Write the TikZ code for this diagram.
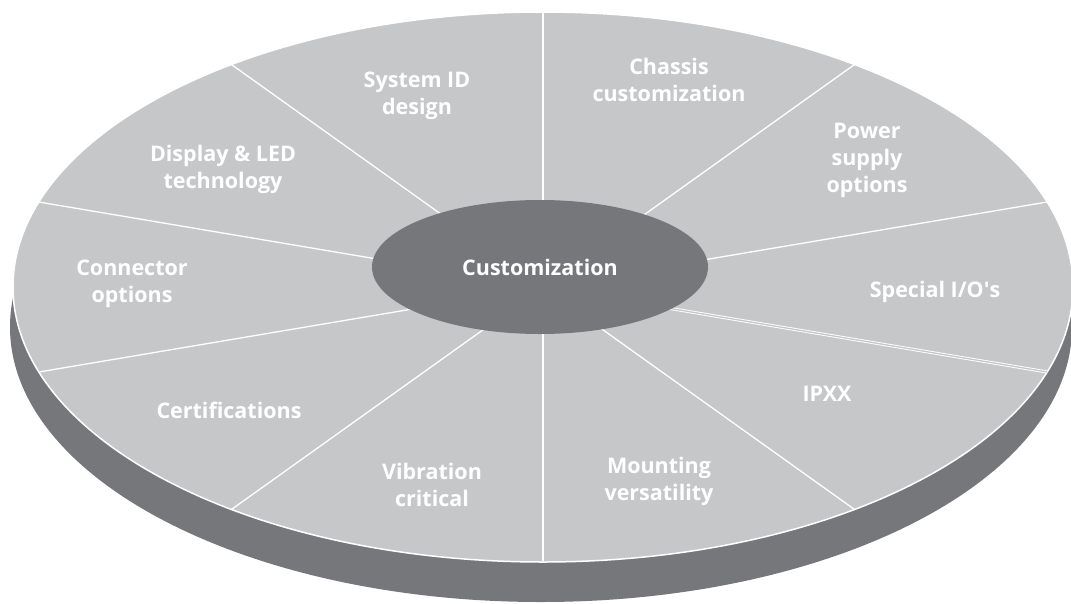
\documentclass[tikz,border=0pt]{standalone}
\usepackage{fontspec}
\setmainfont{Open Sans}
\usetikzlibrary{shapes.geometric}
\definecolor{facegray}{HTML}{C6C7C8}
\definecolor{sidegray}{HTML}{76777A}
\begin{document}
\begin{tikzpicture}[x=1pt,y=-1pt,
  lbl/.style={text=white,font=\bfseries\fontsize{21.5}{27}\selectfont,align=center,inner sep=0pt},
  spoke/.style={draw=white,line width=1.3pt},
  dspoke/.style={draw=white,line width=0.9pt,double=facegray,double distance=1.3pt},
  hub/.style={ellipse,fill=sidegray,minimum width=336,minimum height=134,inner sep=0pt,
    text=white,font=\bfseries\fontsize{21.5}{27}\selectfont}]
\useasboundingbox (0,0) rectangle (1071,603);
% side (thickness) of the disc
\fill[sidegray] (541,327) ellipse [x radius=531, y radius=275];
% top face
\draw[white,line width=1.5pt,fill=facegray] (543,287) ellipse [x radius=530, y radius=275];
\coordinate (c) at (543,287);
\foreach \i/\a in {1/-90,2/-54,3/-18,4/18,5/54,6/90,7/126,8/162,9/198,10/234}
  \path (c) ++(\a:530 and 275) coordinate (o\i);
\foreach \i in {1,2,3,5,6,7,8,9,10}
  \draw[spoke] (c) -- (o\i);
\draw[dspoke] (c) -- (o4);
% hub
\node[hub] (hubnode) at (540,267) {Customization};
% labels
\node[lbl] (sysid) at (417,96) {System ID\\design};
\node[lbl] (chassis) at (669,80) {Chassis\\customization};
\node[lbl] (power) at (867,160) {Power\\supply\\options};
\node[lbl] (special) at (935,292) {Special I/O\textquotesingle s};
\node[lbl] (ipxx) at (827,394) {IPXX};
\node[lbl] (mount) at (659,481) {Mounting\\versatility};
\node[lbl] (vib) at (432,485) {Vibration\\critical};
\node[lbl] (cert) at (229,410) {Certifications};
\node[lbl] (conn) at (132,284) {Connector\\options};
\node[lbl] (disp) at (223,169) {Display \& LED\\technology};
\end{tikzpicture}
\end{document}
